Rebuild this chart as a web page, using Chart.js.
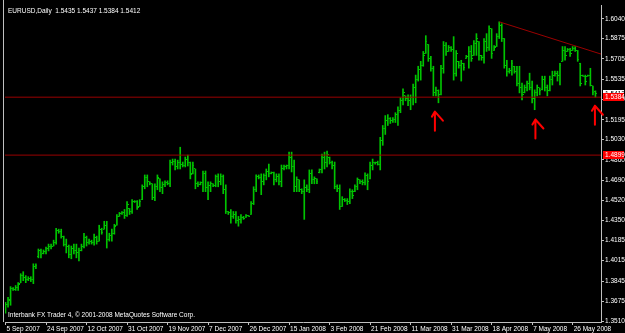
<!DOCTYPE html>
<html><head><meta charset="utf-8">
<script src="https://cdn.jsdelivr.net/npm/chart.js@4/dist/chart.umd.min.js"></script>
<style>html,body{margin:0;padding:0;background:#000;}canvas{display:block;}</style>
</head><body>
<canvas id="c" width="625" height="333"></canvas>
<script>
const symbolTitle = 'EURUSD,Daily  1.5435 1.5437 1.5384 1.5412';
const copyright = 'Interbank FX Trader 4, \u00A9 2001-2008 MetaQuotes Software Corp.';
const dateLabels = ['5 Sep 2007','24 Sep 2007','12 Oct 2007','31 Oct 2007','19 Nov 2007','7 Dec 2007','26 Dec 2007','15 Jan 2008','3 Feb 2008','21 Feb 2008','11 Mar 2008','31 Mar 2008','18 Apr 2008','7 May 2008','26 May 2008'];
const dateLabelBars = [0,16,32,48,64,80,96,112,128,144,160,176,192,208,224];
const priceTicks = [1.6040,1.5875,1.5705,1.5535,1.5365,1.5195,1.5030,1.4860,1.4690,1.4520,1.4350,1.4185,1.4015,1.3845,1.3675,1.3510];

const opens = [1.3592,1.3650,1.3683,1.3782,1.3774,1.3790,1.3823,1.3890,1.3873,1.3856,1.3865,1.3856,1.3964,1.4048,1.4097,1.4072,1.4089,1.4113,1.4130,1.4138,
1.4171,1.4270,1.4262,1.4221,1.4154,1.4130,1.4064,1.4113,1.4097,1.4080,1.4097,1.4138,1.4212,1.4171,1.4179,1.4171,1.4212,1.4179,1.4279,1.4279,
1.4312,1.4196,1.4229,1.4245,1.4312,1.4386,1.4410,1.4419,1.4394,1.4452,1.4427,1.4510,1.4510,1.4469,1.4526,1.4634,1.4708,1.4675,1.4659,1.4543,
1.4634,1.4700,1.4626,1.4650,1.4667,1.4659,1.4841,1.4849,1.4800,1.4833,1.4824,1.4816,1.4866,1.4841,1.4742,1.4783,1.4659,1.4650,1.4667,1.4742,
1.4626,1.4642,1.4659,1.4642,1.4717,1.4675,1.4717,1.4609,1.4427,1.4419,1.4386,1.4402,1.4353,1.4361,1.4378,1.4378,1.4394,1.4402,1.4493,1.4609,
1.4717,1.4708,1.4675,1.4725,1.4758,1.4742,1.4750,1.4692,1.4717,1.4675,1.4791,1.4800,1.4808,1.4883,1.4800,1.4634,1.4692,1.4609,1.4593,1.4626,
1.4609,1.4742,1.4692,1.4700,1.4750,1.4775,1.4883,1.4841,1.4883,1.4841,1.4808,1.4634,1.4617,1.4469,1.4526,1.4518,1.4510,1.4593,1.4593,1.4634,
1.4692,1.4675,1.4667,1.4725,1.4700,1.4816,1.4841,1.4833,1.4824,1.5023,1.5122,1.5188,1.5205,1.5188,1.5197,1.5238,1.5271,1.5354,1.5395,1.5370,
1.5354,1.5379,1.5469,1.5536,1.5618,1.5651,1.5751,1.5825,1.5709,1.5627,1.5420,1.5436,1.5403,1.5627,1.5817,1.5767,1.5800,1.5784,1.5585,1.5684,
1.5651,1.5668,1.5709,1.5726,1.5767,1.5734,1.5833,1.5850,1.5734,1.5717,1.5850,1.5800,1.5957,1.5775,1.5808,1.5891,1.5982,1.5875,1.5651,1.5602,
1.5610,1.5643,1.5602,1.5502,1.5461,1.5420,1.5461,1.5502,1.5469,1.5370,1.5420,1.5461,1.5445,1.5536,1.5461,1.5436,1.5536,1.5569,1.5585,1.5569,
1.5684,1.5775,1.5767,1.5784,1.5775,1.5792,1.5775,1.5668,1.5569,1.5560,1.5560,1.5569,1.5478,1.5435];

const highs = [1.3666,1.3708,1.3798,1.3790,1.3807,1.3831,1.3906,1.3923,1.3890,1.3881,1.3881,1.3989,1.3989,1.4113,1.4113,1.4105,1.4130,1.4154,1.4154,1.4187,
1.4287,1.4279,1.4279,1.4221,1.4196,1.4146,1.4138,1.4154,1.4154,1.4121,1.4154,1.4245,1.4221,1.4196,1.4187,1.4237,1.4221,1.4312,1.4287,1.4345,
1.4345,1.4245,1.4279,1.4320,1.4402,1.4419,1.4427,1.4444,1.4510,1.4452,1.4526,1.4518,1.4518,1.4526,1.4650,1.4733,1.4733,1.4675,1.4659,1.4659,
1.4733,1.4700,1.4675,1.4684,1.4684,1.4857,1.4866,1.4866,1.4857,1.4965,1.4841,1.4883,1.4899,1.4841,1.4841,1.4783,1.4675,1.4675,1.4766,1.4766,
1.4675,1.4675,1.4659,1.4733,1.4742,1.4742,1.4733,1.4650,1.4427,1.4444,1.4427,1.4427,1.4386,1.4402,1.4386,1.4402,1.4394,1.4510,1.4634,1.4733,
1.4733,1.4742,1.4742,1.4783,1.4824,1.4758,1.4758,1.4742,1.4742,1.4816,1.4816,1.4816,1.4924,1.4924,1.4857,1.4717,1.4692,1.4617,1.4692,1.4650,
1.4775,1.4775,1.4717,1.4700,1.4783,1.4907,1.4924,1.4932,1.4883,1.4849,1.4841,1.4650,1.4650,1.4551,1.4535,1.4535,1.4617,1.4609,1.4650,1.4708,
1.4692,1.4692,1.4750,1.4742,1.4841,1.4866,1.4841,1.4849,1.5048,1.5147,1.5230,1.5238,1.5213,1.5213,1.5254,1.5304,1.5379,1.5453,1.5395,1.5403,
1.5403,1.5494,1.5569,1.5643,1.5684,1.5767,1.5899,1.5825,1.5726,1.5643,1.5469,1.5445,1.5651,1.5850,1.5841,1.5817,1.5808,1.5891,1.5775,1.5684,
1.5693,1.5668,1.5734,1.5808,1.5817,1.5858,1.5916,1.5850,1.5734,1.5875,1.5916,1.5982,1.5957,1.5817,1.5916,1.6015,1.5999,1.5875,1.5693,1.5626,
1.5693,1.5643,1.5643,1.5643,1.5502,1.5486,1.5519,1.5585,1.5519,1.5445,1.5486,1.5461,1.5560,1.5560,1.5486,1.5560,1.5602,1.5602,1.5602,1.5668,
1.5808,1.5808,1.5792,1.5792,1.5808,1.5808,1.5775,1.5668,1.5569,1.5569,1.5569,1.5626,1.5478,1.5437];

const lows = [1.3575,1.3625,1.3642,1.3766,1.3766,1.3766,1.3831,1.3848,1.3831,1.3848,1.3840,1.3823,1.3948,1.4039,1.4039,1.4072,1.4072,1.4097,1.4113,1.4138,
1.4154,1.4245,1.4204,1.4138,1.4080,1.4039,1.4031,1.4072,1.4039,1.4014,1.4097,1.4121,1.4138,1.4154,1.4154,1.4146,1.4154,1.4179,1.4237,1.4279,
1.4121,1.4179,1.4179,1.4237,1.4312,1.4386,1.4402,1.4369,1.4386,1.4402,1.4410,1.4502,1.4444,1.4469,1.4526,1.4617,1.4634,1.4650,1.4526,1.4518,
1.4609,1.4593,1.4576,1.4634,1.4650,1.4634,1.4816,1.4775,1.4783,1.4783,1.4800,1.4800,1.4808,1.4700,1.4742,1.4617,1.4634,1.4650,1.4593,1.4593,
1.4526,1.4593,1.4634,1.4634,1.4634,1.4650,1.4576,1.4410,1.4402,1.4329,1.4369,1.4329,1.4304,1.4329,1.4361,1.4378,1.4386,1.4402,1.4485,1.4593,
1.4700,1.4568,1.4650,1.4692,1.4717,1.4742,1.4650,1.4675,1.4650,1.4634,1.4775,1.4783,1.4783,1.4758,1.4593,1.4593,1.4593,1.4576,1.4361,1.4593,
1.4584,1.4659,1.4659,1.4659,1.4750,1.4750,1.4783,1.4800,1.4824,1.4783,1.4617,1.4593,1.4444,1.4469,1.4510,1.4485,1.4493,1.4535,1.4593,1.4609,
1.4659,1.4650,1.4650,1.4609,1.4700,1.4775,1.4824,1.4816,1.4775,1.4981,1.5072,1.5147,1.5164,1.5172,1.5172,1.5147,1.5254,1.5320,1.5354,1.5312,
1.5279,1.5320,1.5337,1.5519,1.5527,1.5643,1.5751,1.5684,1.5602,1.5395,1.5395,1.5337,1.5403,1.5585,1.5734,1.5767,1.5767,1.5527,1.5560,1.5627,
1.5519,1.5610,1.5709,1.5627,1.5684,1.5734,1.5734,1.5693,1.5693,1.5668,1.5767,1.5775,1.5709,1.5775,1.5808,1.5875,1.5850,1.5627,1.5560,1.5585,
1.5569,1.5585,1.5478,1.5420,1.5362,1.5420,1.5436,1.5445,1.5337,1.5279,1.5395,1.5403,1.5445,1.5436,1.5395,1.5436,1.5486,1.5560,1.5519,1.5486,
1.5684,1.5693,1.5767,1.5726,1.5775,1.5767,1.5684,1.5478,1.5560,1.5486,1.5560,1.5478,1.5403,1.5384];

const closes = [1.3650,1.3692,1.3782,1.3774,1.3790,1.3815,1.3890,1.3873,1.3856,1.3865,1.3856,1.3964,1.3973,1.4097,1.4064,1.4089,1.4113,1.4130,1.4138,1.4171,
1.4270,1.4262,1.4221,1.4154,1.4130,1.4064,1.4113,1.4097,1.4080,1.4097,1.4138,1.4212,1.4171,1.4179,1.4171,1.4212,1.4179,1.4279,1.4254,1.4312,
1.4196,1.4229,1.4245,1.4304,1.4386,1.4410,1.4419,1.4394,1.4485,1.4427,1.4510,1.4510,1.4460,1.4510,1.4634,1.4708,1.4675,1.4659,1.4543,1.4634,
1.4708,1.4626,1.4650,1.4667,1.4659,1.4841,1.4849,1.4800,1.4833,1.4824,1.4816,1.4866,1.4841,1.4733,1.4816,1.4659,1.4650,1.4667,1.4742,1.4626,
1.4642,1.4659,1.4642,1.4717,1.4675,1.4717,1.4609,1.4427,1.4419,1.4386,1.4402,1.4353,1.4361,1.4378,1.4369,1.4394,1.4386,1.4493,1.4609,1.4717,
1.4708,1.4675,1.4725,1.4758,1.4742,1.4750,1.4692,1.4717,1.4675,1.4791,1.4800,1.4808,1.4883,1.4800,1.4634,1.4692,1.4609,1.4593,1.4626,1.4609,
1.4742,1.4692,1.4700,1.4675,1.4775,1.4883,1.4841,1.4907,1.4841,1.4808,1.4634,1.4617,1.4469,1.4526,1.4518,1.4510,1.4593,1.4560,1.4634,1.4692,
1.4675,1.4667,1.4725,1.4675,1.4816,1.4841,1.4833,1.4824,1.5023,1.5122,1.5188,1.5205,1.5188,1.5197,1.5238,1.5271,1.5354,1.5420,1.5370,1.5354,
1.5379,1.5469,1.5536,1.5618,1.5651,1.5734,1.5850,1.5709,1.5627,1.5420,1.5436,1.5403,1.5627,1.5817,1.5767,1.5800,1.5784,1.5585,1.5751,1.5651,
1.5668,1.5635,1.5726,1.5767,1.5709,1.5833,1.5875,1.5734,1.5717,1.5850,1.5800,1.5957,1.5751,1.5800,1.5891,1.5982,1.5875,1.5651,1.5602,1.5610,
1.5668,1.5602,1.5502,1.5461,1.5403,1.5461,1.5502,1.5469,1.5370,1.5420,1.5461,1.5436,1.5536,1.5461,1.5436,1.5536,1.5569,1.5585,1.5569,1.5651,
1.5775,1.5734,1.5784,1.5751,1.5792,1.5775,1.5701,1.5502,1.5560,1.5519,1.5569,1.5486,1.5420,1.5412];

const levelLines = [1.5384, 1.4899];
const bidPrice = 1.5412;
const trendLine = [{bar: 195, price: 1.6015}, {bar: 235.2, price: 1.5745}];
const arrows = [{bar: 169.6, price: 1.5263}, {bar: 209.3, price: 1.5197}, {bar: 232.8, price: 1.5312}];

const X_MIN = -0.2, X_MAX = 235.2;
const Y_MIN = 1.35018, Y_MAX = 1.61558;
const GREEN = '#00c400';
const LINE_RED = '#9a0000';
const AXIS = '#c0c0c0';

function tickImage(side) {
  const c = document.createElement('canvas');
  c.width = 3; c.height = 1;
  const g = c.getContext('2d');
  g.fillStyle = GREEN;
  g.fillRect(side === 'L' ? 0 : 2, 0, 1, 1);
  return c;
}

const idx = highs.map((_, i) => i);
Chart.defaults.font.family = '"Liberation Sans", Arial, sans-serif';
Chart.defaults.font.size = 6.5;
Chart.defaults.color = '#ffffff';

const datasets = [
  { type: 'bar', data: idx.map(i => ({x: i, y: [lows[i], highs[i]]})), backgroundColor: GREEN,
    barThickness: 1, borderWidth: 0, order: 3 },
  { type: 'line', data: idx.map(i => ({x: i, y: opens[i]})), showLine: false,
    pointStyle: tickImage('L'), pointRadius: 1, order: 2 },
  { type: 'line', data: idx.map(i => ({x: i, y: closes[i]})), showLine: false,
    pointStyle: tickImage('R'), pointRadius: 1, order: 2 },
  ...levelLines.map(v => ({ type: 'line', data: [{x: X_MIN, y: v}, {x: X_MAX, y: v}],
    borderColor: LINE_RED, borderWidth: 1, pointRadius: 0, order: 1 })),
  { type: 'line', data: trendLine.map(p => ({x: p.bar, y: p.price})), borderColor: LINE_RED,
    borderWidth: 1, pointRadius: 0, order: 1 }
];

const overlay = {
  id: 'overlay',
  beforeDraw(chart) {
    const g = chart.ctx;
    g.save(); g.fillStyle = '#000'; g.fillRect(0, 0, chart.width, chart.height); g.restore();
  },
  afterDraw(chart) {
    const g = chart.ctx, a = chart.chartArea;
    const xs = chart.scales.x, ys = chart.scales.y;
    g.save();
    g.strokeStyle = AXIS; g.lineWidth = 1;
    g.beginPath(); g.moveTo(a.left - 1.5, 0); g.lineTo(a.left - 1.5, a.bottom); g.stroke();
    g.fillStyle = '#ffffff';
    g.font = '6.5px "Liberation Sans", Arial, sans-serif';
    g.textBaseline = 'middle'; g.textAlign = 'left';
    g.fillText(symbolTitle, a.left + 3, a.top + 6);
    g.fillText(copyright, a.left + 3, a.bottom - 7);
    g.strokeStyle = '#ff0000'; g.lineWidth = 2; g.lineCap = 'round'; g.lineJoin = 'round';
    arrows.forEach(ar => {
      const px = xs.getPixelForValue(ar.bar), py = ys.getPixelForValue(ar.price);
      g.beginPath();
      g.moveTo(px, py + 19); g.lineTo(px, py);
      g.moveTo(px - 3, py + 5); g.lineTo(px, py); g.lineTo(px + 8, py + 9);
      g.stroke();
    });
    const box = (price, bg, fg) => {
      const y = ys.getPixelForValue(price);
      g.fillStyle = bg;
      g.fillRect(a.right + 2, Math.round(y) - 4, chart.width - a.right - 3, 8);
      g.fillStyle = fg;
      g.fillText(price.toFixed(4), a.right + 4, Math.round(y));
    };
    box(bidPrice, '#ffffff', '#000000');
    levelLines.forEach(v => box(v, '#ff0000', '#ffffff'));
    g.restore();
  }
};

new Chart(document.getElementById('c'), {
  type: 'bar',
  data: { datasets },
  options: {
    responsive: false, animation: false, events: [], devicePixelRatio: 1,
    layout: { padding: { left: 2, top: 1, right: 0, bottom: 0 } },
    plugins: { legend: { display: false }, tooltip: { enabled: false }, title: { display: false } },
    scales: {
      x: {
        type: 'linear', position: 'bottom', min: X_MIN, max: X_MAX, offset: false,
        afterBuildTicks: s => { s.ticks = dateLabelBars.map(v => ({ value: v })); },
        afterFit: s => { s.height = 11; s.paddingLeft = 0; s.paddingRight = 0; },
        ticks: { autoSkip: false, maxRotation: 0, minRotation: 0, align: 'start', padding: 0, labelOffset: 1,
          callback: (v, i) => dateLabels[i], color: '#ffffff' },
        grid: { drawOnChartArea: false, drawTicks: true, tickLength: 3, color: AXIS, offset: false },
        border: { display: true, color: AXIS }
      },
      y: {
        type: 'linear', position: 'right', min: Y_MIN, max: Y_MAX,
        afterBuildTicks: s => { s.ticks = priceTicks.map(v => ({ value: v })); },
        afterFit: s => { s.width = 24; },
        ticks: { autoSkip: false, padding: 1, callback: v => Number(v).toFixed(4), color: '#ffffff' },
        grid: { drawOnChartArea: false, drawTicks: true, tickLength: 3, color: AXIS },
        border: { display: true, color: AXIS }
      }
    }
  },
  plugins: [overlay]
});
</script>
</body></html>
